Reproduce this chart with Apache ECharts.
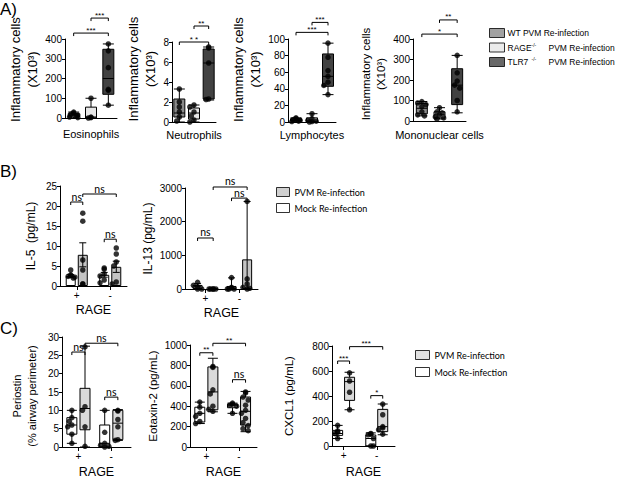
<!DOCTYPE html>
<html><head><meta charset="utf-8">
<script src="https://cdn.jsdelivr.net/npm/echarts@6/dist/echarts.min.js"></script>
<style>html,body{margin:0;padding:0;background:#fff}#c{width:617px;height:479px}</style>
</head><body><div id="c"></div>
<script>
// ================= DATA =================
const groupNamesA = ['WT PVM Re-infection', 'RAGE-/- PVM Re-infection', 'TLR7-/- PVM Re-infection'];
const conditionNames = ['Mock Re-infection', 'PVM Re-infection'];
const rageLabels = ['+', '-'];

// Panel A: boxes [min, Q1, median, Q3, max] for WT, RAGE-/-, TLR7-/-
const eosBox = [[0, 5, 15, 22, 30], [0, 0, 5, 55, 100], [65, 120, 200, 348, 375]];
const eosPts = [[30, 25, 20, 15, 10, 5, 2], [100, 5, 2, 0], [375, 340, 255, 145, 140, 65]];
const eosSig = [[1, 2, 506, '***'], [0, 2, 430, '***']];

const neuBox = [[0, 0.5, 0.9, 2.3, 3.3], [0, 0.3, 0.9, 1.4, 1.7], [2.2, 2.3, 5.9, 7.3, 7.5]];
const neuPts = [[3.3, 2.0, 1.5, 1.0, 0.5, 0.1], [1.7, 1.5, 1.0, 0.6, 0.2, 0], [7.5, 7.4, 5.9, 2.3, 2.25]];
const neuSig = [[1, 2, 9.6, '**'], [0, 2, 8.0, '* *']];

const lymBox = [[0, 1, 2, 4, 5], [0, 0, 1, 5, 10], [33, 43, 55, 82, 95]];
const lymPts = [[5, 4, 3, 2, 1, 0.5], [10, 4, 2, 1, 0.5, 0], [95, 78, 62, 55, 48, 44, 33]];
const lymSig = [[1, 2, 120, '***'], [0, 2, 108, '***']];

const monoBox = [[25, 35, 62, 85, 95], [10, 15, 30, 45, 65], [40, 80, 175, 255, 320]];
const monoPts = [[95, 88, 80, 70, 45, 30, 25], [65, 45, 40, 30, 20, 15, 10], [320, 235, 195, 175, 160, 100, 45]];
const monoSig = [[1, 2, 493, '**'], [0, 2, 424, '*']];

// Panel B (order: Mock RAGE+, PVM RAGE+, Mock RAGE-, PVM RAGE-)
const il5Mean = [2.5, 7.8, 2.8, 4.8];
const il5Sem = [0.35, 3.0, 0.6, 1.4];
const il5Pts = [[4.0, 2.8, 2.6, 2.4, 2.2, 2.0], [18.2, 16.2, 6.5, 4.0, 0.5, 0.5], [4.5, 4.2, 3.0, 2.5, 1.5, 0.8], [9.5, 8.0, 6.0, 5.0, 1.0, 0.5]];
const il5Sig = [[0, 1, 21, 'ns'], [1, 3, 23, 'ns'], [2, 3, 11.7, 'ns']];

const il13Mean = [120, 5, 90, 880];
const il13Sem = [40, 0, 240, 1720];
const il13Pts = [[200, 110, 50, 0, 0], [0, 0, 0, 0, 0], [340, 50, 30, 0, 0, 0], [2600, 300, 150, 50, 20, 0]];
const il13Sig = [[0, 1, 1515, 'ns'], [1, 3, 3030, 'ns'], [2, 3, 2700, 'ns']];

// Panel C (same order)
const perBox = [[1, 3.5, 6, 8, 10], [0, 4.7, 10.5, 16, 27.5], [0, 0, 1, 6, 10], [1.8, 2, 6.5, 10, 10.2]];
const perPts = [[10, 8, 7, 6, 5.5, 3.5, 1], [27.3, 11, 10, 5.5, 0.2], [10, 4, 1, 0.5, 0.2, 0], [10, 9.8, 7.5, 5.5, 2, 1.8]];
const perSig = [[0, 1, 25.9, 'ns'], [1, 3, 28.3, 'ns'], [2, 3, 13.6, 'ns']];

const eotBox = [[230, 245, 330, 390, 440], [345, 365, 540, 785, 870], [330, 385, 410, 420, 430], [150, 215, 350, 490, 545]];
const eotPts = [[440, 390, 330, 300, 250, 230], [790, 780, 560, 520, 400, 370, 350], [430, 420, 410, 400, 330], [540, 530, 490, 460, 410, 360, 330, 280, 240, 210, 180, 160]];
const eotSig = [[0, 1, 924, '**'], [1, 3, 1017, '**'], [2, 3, 660, 'ns']];

const cxBox = [[60, 85, 100, 125, 165], [290, 365, 515, 550, 590], [0, 0, 60, 88, 105], [90, 115, 155, 293, 336]];
const cxPts = [[165, 120, 110, 100, 60], [585, 520, 430, 290], [100, 95, 90, 60, 0, 0], [335, 250, 155, 145, 130, 95]];
const cxSig = [[0, 1, 680, '***'], [1, 3, 795, '***'], [2, 3, 403, '*']];

// ================= STYLE / LAYOUT =================
const FONT = 'Liberation Sans';
const colorsA = ['#8a8a8a', '#e6e6e6', '#424242'];
const colorsB = ['#ffffff', '#c4c4c4'];
const colorsC = ['#ffffff', '#dadada'];

const panels = [
  { kind: 'A', grid: { left: 65, top: 39, width: 52, height: 79 }, xr: [0, 3], yMax: 400, yInt: 100,
    yName: 'Inflammatory cells\n(X10³)', yGap: 21, yFs: 13, yShift: 9, xName: 'Eosinophils', xGap: 10, box: eosBox, pts: eosPts, sig: eosSig },
  { kind: 'A', grid: { left: 172, top: 42, width: 44, height: 80 }, xr: [0, 3], yMax: 8, yInt: 2,
    yName: 'Inflammatory cells\n(X10³)', yGap: 13, yFs: 13, yShift: 13, xName: 'Neutrophils', xGap: 7, box: neuBox, pts: neuPts, sig: neuSig },
  { kind: 'A', grid: { left: 288, top: 39, width: 48, height: 83 }, xr: [0, 3], yMax: 100, yInt: 20,
    yName: 'Inflammatory cells\n(X10³)', yGap: 21, yFs: 13, yShift: 11, xName: 'Lymphocytes', xGap: 7, box: lymBox, pts: lymPts, sig: lymSig },
  { kind: 'A', grid: { left: 413, top: 39, width: 53, height: 82 }, xr: [0, 3], yMax: 400, yInt: 100,
    yName: 'Inflammatory cells\n(X10³)', yGap: 24, yFs: 11.5, yShift: 6, xName: 'Mononuclear cells', xGap: 8, box: monoBox, pts: monoPts, sig: monoSig },
  { kind: 'B', grid: { left: 60, top: 186, width: 67, height: 100 }, xr: [0, 2], off: 0.18, yMax: 25, yInt: 5,
    yName: 'IL-5  (pg/mL)', yGap: 21, yFs: 12, yShift: 0, xName: 'RAGE', xGap: 17, mean: il5Mean, sem: il5Sem, pts: il5Pts, sig: il5Sig },
  { kind: 'B', grid: { left: 185, top: 188, width: 73, height: 101 }, xr: [-0.1, 2.05], off: 0.23, yMax: 3000, yInt: 1000,
    yName: 'IL-13 (pg/mL)', yGap: 22, yFs: 12, yShift: 0, xName: 'RAGE', xGap: 17, mean: il13Mean, sem: il13Sem, pts: il13Pts, sig: il13Sig },
  { kind: 'C', grid: { left: 62, top: 337, width: 69, height: 110 }, xr: [0, 2.1], off: 0.2, yMax: 30, yInt: 5,
    yName: 'Periostin\n(% airway perimeter)', yGap: 23, yFs: 11, yShift: -4, xName: 'RAGE', xGap: 18, box: perBox, pts: perPts, sig: perSig },
  { kind: 'C', grid: { left: 190, top: 345, width: 67, height: 102 }, xr: [0, 2.05], off: 0.2, yMax: 1000, yInt: 200,
    yName: 'Eotaxin-2 (pg/mL)', yGap: 27, yFs: 11.5, yShift: 0, xName: 'RAGE', xGap: 18, box: eotBox, pts: eotPts, sig: eotSig },
  { kind: 'C', grid: { left: 332, top: 346, width: 63, height: 100 }, xr: [0.15, 2.05], off: 0.18, yMax: 800, yInt: 200,
    yName: 'CXCL1 (pg/mL)', yGap: 35, yFs: 11.5, yShift: 0, xName: 'RAGE', xGap: 19, box: cxBox, pts: cxPts, sig: cxSig }
];

// deterministic horizontal spreading of overlapping dots (pixels)
function swarmOffsets(vals, pyPerUnit, dot) {
  const idx = vals.map((v, i) => i).sort((a, b) => vals[b] - vals[a]);
  const placed = [];
  const out = vals.map(() => 0);
  const steps = [0, -1, 1, -1.6, 1.6];
  let clash = 0;
  idx.forEach(i => {
    const py = vals[i] * pyPerUnit;
    let chosen = null;
    for (const s of steps) {
      const px = s * 2.6;
      if (placed.every(p => Math.hypot(p[0] - px, p[1] - py) >= dot * 0.8)) { chosen = px; break; }
    }
    if (chosen === null) { chosen = steps[(clash++) % steps.length] * 2.6; }
    out[i] = chosen;
    placed.push([chosen, py]);
  });
  return out;
}

const grids = [], xAxes = [], yAxes = [], series = [];
const DOT = 5.5;

panels.forEach((cfg, i) => {
  grids.push(Object.assign({ containLabel: false }, cfg.grid));
  const isA = cfg.kind === 'A';
  const xOf = isA ? (j => j + 0.5) : (j => Math.floor(j / 2) + 0.5 + (j % 2 ? cfg.off : -cfg.off));
  const colOf = isA ? (j => colorsA[j]) : (j => (cfg.kind === 'B' ? colorsB : colorsC)[j % 2]);
  const pxPerX = cfg.grid.width / (cfg.xr[1] - cfg.xr[0]);
  const pxPerY = cfg.grid.height / cfg.yMax;

  xAxes.push({
    gridIndex: i, type: 'value', min: cfg.xr[0], max: cfg.xr[1],
    axisLine: { show: true, onZero: false, lineStyle: { color: '#000', width: 1 } },
    axisTick: isA ? { show: false } : { show: true, length: 4, customValues: [0.5, 1.5], lineStyle: { color: '#000' } },
    axisLabel: isA ? { show: false } : { show: true, customValues: [0.5, 1.5], formatter: v => rageLabels[v < 1 ? 0 : 1],
      color: '#000', fontSize: 10, margin: 4, fontFamily: FONT },
    splitLine: { show: false },
    name: cfg.xName, nameLocation: 'middle', nameGap: cfg.xGap,
    nameTextStyle: { color: '#000', fontSize: isA ? 11 : 12.5, fontFamily: FONT, verticalAlign: 'top' }
  });
  yAxes.push({
    gridIndex: i, type: 'value', min: 0, max: cfg.yMax, interval: cfg.yInt,
    axisLine: { show: true, onZero: false, lineStyle: { color: '#000', width: 1 } },
    axisTick: { show: true, length: 3, lineStyle: { color: '#000' } },
    axisLabel: { color: '#000', fontSize: 10, margin: 3, fontFamily: FONT, formatter: v => String(v) },
    splitLine: { show: false },
    name: cfg.yName, nameLocation: 'middle', nameGap: cfg.yGap,
    nameTextStyle: { color: '#000', fontSize: cfg.yFs, lineHeight: cfg.yFs + 4, fontFamily: FONT,
      padding: cfg.yShift > 0 ? [0, 0, 0, 2 * cfg.yShift] : [0, -2 * cfg.yShift, 0, 0] }
  });

  // boxes or bars
  if (cfg.kind === 'B') {
    series.push({
      type: 'bar', xAxisIndex: i, yAxisIndex: i, barWidth: 10, z: 2, silent: true,
      data: cfg.mean.map((m, j) => ({ value: [xOf(j), m], itemStyle: { color: colOf(j), borderColor: '#000', borderWidth: 1 } }))
    });
    series.push({
      type: 'custom', xAxisIndex: i, yAxisIndex: i, z: 4, silent: true, clip: false,
      data: cfg.mean.map((m, j) => [xOf(j), Math.max(0, m - cfg.sem[j]), m + cfg.sem[j]]),
      encode: { x: 0, y: [1, 2] },
      renderItem: (p, api) => {
        const x = api.value(0);
        const a = api.coord([x, api.value(1)]);
        const b = api.coord([x, api.value(2)]);
        const st = { stroke: '#000', lineWidth: 1 };
        return { type: 'group', children: [
          { type: 'line', shape: { x1: a[0], y1: a[1], x2: b[0], y2: b[1] }, style: st },
          { type: 'line', shape: { x1: b[0] - 3.5, y1: b[1], x2: b[0] + 3.5, y2: b[1] }, style: st },
          { type: 'line', shape: { x1: a[0] - 3.5, y1: a[1], x2: a[0] + 3.5, y2: a[1] }, style: st }
        ] };
      }
    });
  } else {
    const bw = isA ? 11 : 10;
    series.push({
      type: 'boxplot', xAxisIndex: i, yAxisIndex: i, boxWidth: [bw, bw], z: 2, silent: true,
      itemStyle: { borderColor: '#000', borderWidth: 1 },
      data: cfg.box.map((b, j) => ({ value: [xOf(j)].concat(b), itemStyle: { color: colOf(j), borderColor: '#000', borderWidth: 1 } }))
    });
  }

  // points, one scatter series per group/condition
  const nGroups = isA ? 3 : 2;
  for (let g = 0; g < nGroups; g++) {
    const data = [];
    cfg.pts.forEach((vals, j) => {
      const grp = isA ? j : j % 2;
      if (grp !== g) return;
      const offs = swarmOffsets(vals, pxPerY, DOT);
      vals.forEach((v, k) => data.push([xOf(j) + offs[k] / pxPerX, v]));
    });
    series.push({
      type: 'scatter', name: isA ? groupNamesA[g] : conditionNames[g], xAxisIndex: i, yAxisIndex: i,
      symbol: 'circle', symbolSize: DOT, itemStyle: { color: '#000' }, z: 5, clip: false, silent: true, data
    });
  }

  // significance brackets
  const sig = cfg.sig;
  series.push({
    type: 'custom', xAxisIndex: i, yAxisIndex: i, z: 6, silent: true, clip: false,
    data: sig.map(s => [xOf(s[0]), xOf(s[1]), s[2]]),
    encode: { x: [0, 1], y: 2 },
    renderItem: (p, api) => {
      const y = api.value(2);
      const a = api.coord([api.value(0), y]);
      const b = api.coord([api.value(1), y]);
      const t = sig[p.dataIndex][3];
      const isNs = t === 'ns';
      return { type: 'group', children: [
        { type: 'polyline', shape: { points: [[a[0], a[1] + 3], [a[0], a[1]], [b[0], b[1]], [b[0], b[1] + 3]] },
          style: { stroke: '#000', fill: null, lineWidth: 1 } },
        { type: 'text', x: (a[0] + b[0]) / 2, y: a[1] - (isNs ? 0 : -1),
          style: { text: t, fill: '#000', font: (isNs ? '10.5px Lato' : '8px ' + FONT), align: 'center', verticalAlign: 'bottom' } }
      ] };
    }
  });
});

function fmtA(name) {
  if (name.indexOf('WT') === 0) return '{t|' + name + '}';
  const sp = name.indexOf(' ');
  const g = name.slice(0, sp).replace('-/-', '');
  return '{g|' + g + '}{s|-/-}{t|' + name.slice(sp + 1) + '}';
}

const option = {
  animation: false,
  backgroundColor: '#fff',
  textStyle: { fontFamily: FONT },
  title: [
    { text: 'A)', left: 0, top: 1, padding: 0, textStyle: { fontSize: 17, fontWeight: 'normal', color: '#000', fontFamily: FONT } },
    { text: 'B)', left: 0, top: 163, padding: 0, textStyle: { fontSize: 17, fontWeight: 'normal', color: '#000', fontFamily: FONT } },
    { text: 'C)', left: 0, top: 320, padding: 0, textStyle: { fontSize: 17, fontWeight: 'normal', color: '#000', fontFamily: FONT } }
  ],
  legend: [
    { left: 489, top: 28, orient: 'vertical', padding: 0, itemWidth: 15, itemHeight: 9, itemGap: 4, icon: 'rect', selectedMode: false,
      data: groupNamesA.map((n, j) => ({ name: n, itemStyle: { color: colorsA[j], borderColor: '#000', borderWidth: 1 } })),
      formatter: fmtA,
      textStyle: { color: '#000', fontFamily: FONT, fontSize: 8.5, padding: [0, 0, 0, -2],
        rich: { t: { fontSize: 8.5, fontFamily: FONT }, g: { fontSize: 8.5, fontFamily: FONT, width: 24 },
          s: { fontSize: 5, fontFamily: FONT, width: 17, padding: [0, 0, 6, 0] } } } },
    { left: 276, top: 187, orient: 'vertical', padding: 0, itemWidth: 13, itemHeight: 9, itemGap: 6, icon: 'rect', selectedMode: false,
      data: [1, 0].map(j => ({ name: conditionNames[j], itemStyle: { color: colorsB[j], borderColor: '#000', borderWidth: 1 } })),
      textStyle: { color: '#000', fontFamily: 'Lato', fontSize: 9 } },
    { left: 415, top: 350, orient: 'vertical', padding: 0, itemWidth: 14, itemHeight: 9, itemGap: 7, icon: 'rect', selectedMode: false,
      data: [1, 0].map(j => ({ name: conditionNames[j], itemStyle: { color: colorsC[j], borderColor: '#000', borderWidth: 1 } })),
      textStyle: { color: '#000', fontFamily: 'Lato', fontSize: 9 } }
  ],
  grid: grids, xAxis: xAxes, yAxis: yAxes, series
};

const chart = echarts.init(document.getElementById('c'), null, { renderer: 'svg', width: 617, height: 479 });
chart.setOption(option);
</script>
</body></html>
